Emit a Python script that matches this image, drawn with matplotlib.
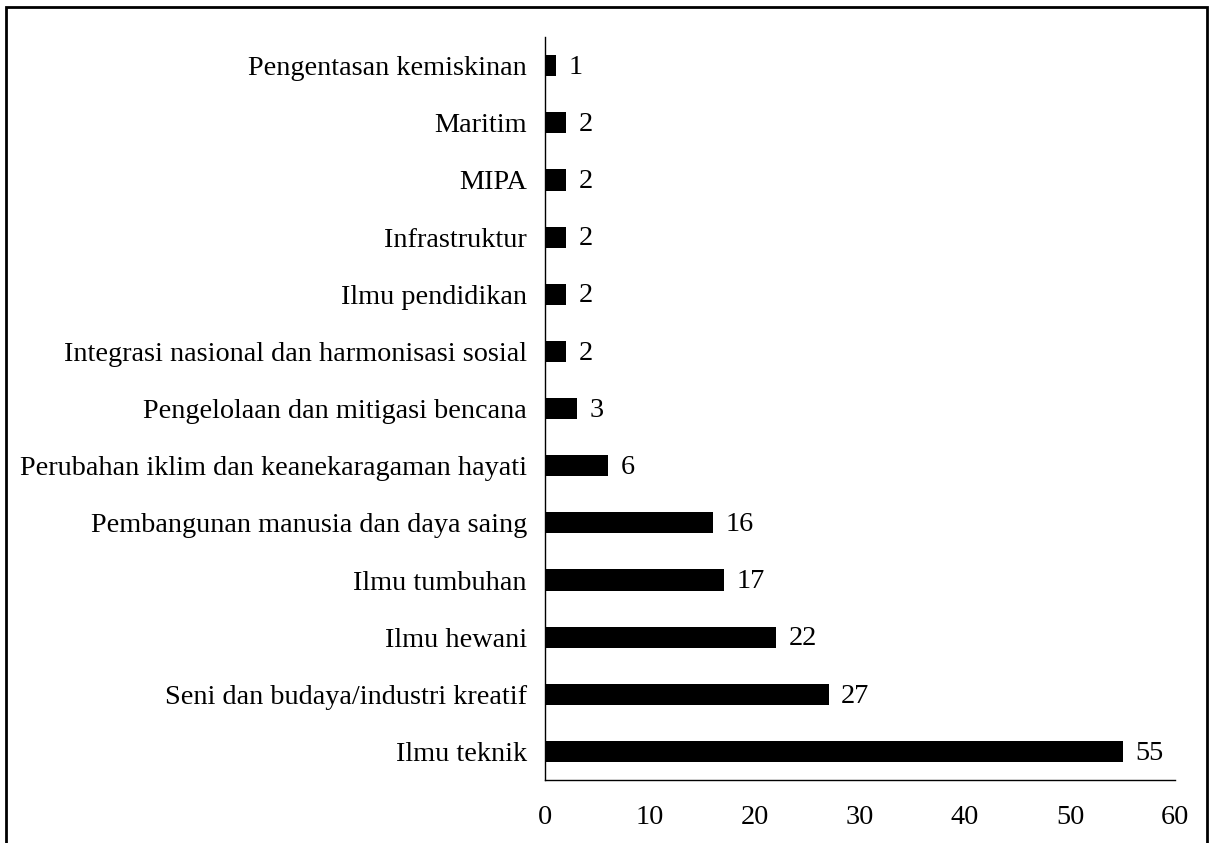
import matplotlib
matplotlib.use("Agg")
import numpy as np
from matplotlib import pyplot as plt
from matplotlib.patches import Rectangle

# data, bottom to top as drawn
categories = ["Ilmu teknik",
              "Seni dan budaya/industri kreatif",
              "Ilmu hewani",
              "Ilmu tumbuhan",
              "Pembangunan manusia dan daya saing",
              "Perubahan iklim dan keanekaragaman hayati",
              "Pengelolaan dan mitigasi bencana",
              "Integrasi nasional dan harmonisasi sosial",
              "Ilmu pendidikan",
              "Infrastruktur",
              "MIPA",
              "Maritim",
              "Pengentasan kemiskinan"]
counts = [55, 27, 22, 17, 16, 6, 3, 2, 2, 2, 2, 2, 1]
xticks = [0, 10, 20, 30, 40, 50, 60]

plt.rcParams['font.family'] = ['Liberation Serif', 'DejaVu Serif']
fsize = 20.3

fig = plt.figure(figsize=(12.13, 8.43), dpi=100)
ax = fig.add_axes([0.4493, 0.0747, 0.5194, 0.8813])

ypos = np.arange(len(categories))
ax.barh(ypos, counts, height=0.37, color='black')
for y, c in zip(ypos, counts):
    ax.text(c + 1.2, y - 0.03, str(c), va='center', ha='left', fontsize=fsize)

ax.set_xlim(0, 60)
ax.set_ylim(-0.5, len(categories) - 0.5)
ax.set_xticks(xticks)
ax.set_yticks(ypos)
ax.set_yticklabels(categories)
ax.tick_params(axis='both', length=0, labelsize=fsize)
ax.tick_params(axis='x', pad=18)
ax.tick_params(axis='y', pad=13)
for side in ['top', 'right']:
    ax.spines[side].set_visible(False)
for side in ['left', 'bottom']:
    ax.spines[side].set_linewidth(1.0)
    ax.spines[side].set_color('black')

# outer frame (bottom edge falls off the picture)
fig.patches.append(Rectangle((6 / 1213, -0.05), 1201 / 1213, 0.05 + 836 / 843,
                             transform=fig.transFigure, fill=False,
                             edgecolor='black', linewidth=2))

fig.savefig("out.png", dpi=100)
